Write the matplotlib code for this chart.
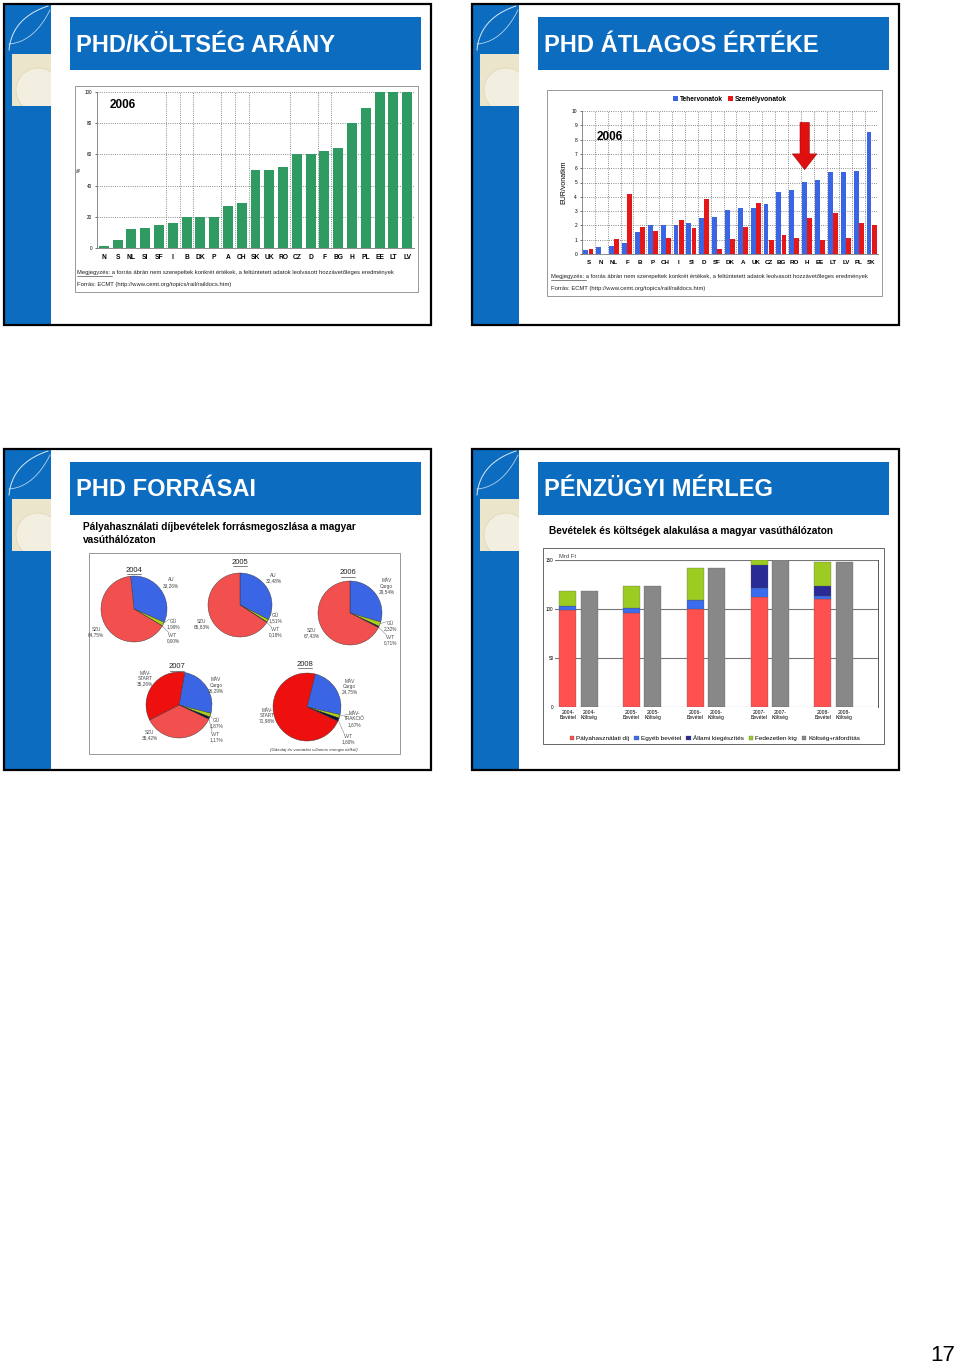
import numpy as np
import matplotlib.pyplot as plt
from matplotlib.patches import Rectangle, Circle, Polygon

plt.rcParams['font.family'] = ['Liberation Sans', 'DejaVu Sans']

# ------------------------------------------------------------
# data
# ------------------------------------------------------------

# slide 1: PHD / cost ratio, 2006 (%)
ratio_countries = ["N", "S", "NL", "SI", "SF", "I", "B", "DK", "P", "A", "CH", "SK",
                   "UK", "RO", "CZ", "D", "F", "BG", "H", "PL", "EE", "LT", "LV"]
ratio_values = [1, 5, 12, 13, 15, 16, 20, 20, 20, 27, 29, 50,
                50, 52, 60, 60, 62, 64, 80, 90, 100, 100, 100]

# slide 2: average charge, 2006 (EUR/vonatkm)
charge_countries = ["S", "N", "NL", "F", "B", "P", "CH", "I", "SI", "D", "SF", "DK",
                    "A", "UK", "CZ", "BG", "RO", "H", "EE", "LT", "LV", "PL", "SK"]
freight = [0.25, 0.5, 0.55, 0.75, 1.55, 2.0, 2.0, 2.0, 2.2, 2.5, 2.6, 3.1,
           3.2, 3.25, 3.5, 4.35, 4.5, 5.05, 5.2, 5.7, 5.7, 5.8, 8.5]
passenger = [0.35, 0.0, 1.05, 4.2, 1.9, 1.6, 1.15, 2.35, 1.8, 3.85, 0.35, 1.05,
             1.9, 3.6, 0.95, 1.35, 1.15, 2.55, 0.95, 2.85, 1.15, 2.15, 2.0]

# slide 3: sources of track access charges
pie_years = ["2004", "2005", "2006", "2007", "2008"]
pie_labels = [
    ["AU", "GÜ", "VVT", "SZU"],
    ["AU", "GÜ", "VVT", "SZU"],
    ["MÁV\nCargo", "GÜ", "VVT", "SZU"],
    ["MÁV\nCargo", "GÜ", "VVT", "SZU", "MÁV-\nSTART"],
    ["MÁV\nCargo", "MÁV-\nTRAKCIÓ", "VVT", "MÁV-\nSTART"],
]
pie_values = [
    [33.26, 1.99, 0.00, 64.75],
    [32.48, 1.51, 0.18, 65.83],
    [29.54, 2.32, 0.71, 67.43],
    [26.29, 1.87, 1.17, 35.42, 35.26],
    [24.75, 1.67, 1.60, 71.98],
]

# slide 4: revenue and cost (Mrd Ft)
balance_years = ["2004", "2005", "2006", "2007", "2008"]
phd_income = [98.6, 95.6, 100.0, 112.6, 110.0]
other_income = [4.8, 5.4, 9.0, 8.4, 3.6]
state_support = [0.0, 0.0, 0.0, 23.6, 9.4]
uncovered = [15.0, 22.5, 33.0, 5.4, 25.0]
total_cost = [118.4, 123.5, 142.0, 150.0, 148.0]
balance_series = ["Pályahasználati díj", "Egyéb bevétel", "Állami kiegészítés",
                  "Fedezetlen ktg", "Költség+ráfordítás"]

# ------------------------------------------------------------
# page
# ------------------------------------------------------------
W, H = 960, 1365
fig = plt.figure(figsize=(9.6, 13.65), dpi=100)
bg = fig.add_axes([0, 0, 1, 1])
bg.set_xlim(0, W)
bg.set_ylim(H, 0)
bg.axis('off')

BLUE = '#0b6cc0'


def px_axes(x0, y0, x1, y1):
    return fig.add_axes([x0 / W, 1 - y1 / H, (x1 - x0) / W, (y1 - y0) / H])


def bezier(p0, p1, p2):
    t = np.linspace(0, 1, 40)[:, None]
    p0, p1, p2 = map(np.array, (p0, p1, p2))
    return (1 - t)**2 * p0 + 2 * (1 - t) * t * p1 + t**2 * p2


def slide(x0, y0, title):
    bg.add_patch(Rectangle((x0, y0), 427, 321, fc='white', ec='none'))
    bg.add_patch(Rectangle((x0, y0), 47, 321, fc=BLUE, ec='none'))
    cream = Rectangle((x0 + 8, y0 + 50), 39, 52, fc='#ebe5cc', ec='none')
    bg.add_patch(cream)
    circ = Circle((x0 + 34, y0 + 86), 22, fc='#f3efe0', ec='#ddd5b8', lw=0.5)
    bg.add_patch(circ)
    circ.set_clip_path(cream)
    c = bezier((x0 + 44, y0 + 2), (x0 + 8, y0 + 14), (x0 + 5, y0 + 46))
    bg.plot(c[:, 0], c[:, 1], color='white', lw=0.7, alpha=0.85)
    c = bezier((x0 + 5, y0 + 40), (x0 + 30, y0 + 38), (x0 + 46, y0 + 6))
    bg.plot(c[:, 0], c[:, 1], color='white', lw=0.6, alpha=0.7)
    bg.add_patch(Rectangle((x0, y0), 427, 321, fc='none', ec='black', lw=1.6, zorder=5))
    bg.add_patch(Rectangle((x0 + 66, y0 + 13), 351, 53, fc=BLUE, ec='none'))
    bg.text(x0 + 72, y0 + 41, title, color='white', fontsize=17,
            fontweight='bold', va='center')


slide(4, 4, "PHD/KÖLTSÉG ARÁNY")
slide(472, 4, "PHD ÁTLAGOS ÉRTÉKE")
slide(4, 449, "PHD FORRÁSAI")
slide(472, 449, "PÉNZÜGYI MÉRLEG")

note = ("a forrás ábrán nem szerepeltek konkrét értékek, a feltüntetett adatok "
        "leolvasott hozzávetőleges eredmények")
source = "Forrás: ECMT (http://www.cemt.org/topics/rail/raildocs.htm)"


def footnote(x, y):
    bg.text(x, y, "Megjegyzés: " + note, fontsize=4.2, va='baseline', color='#222')
    bg.plot([x, x + 35], [y + 1.5, y + 1.5], color='#222', lw=0.4)
    bg.text(x, y + 12, source, fontsize=4.2, va='baseline', color='#222')


def style_small(ax):
    for s in ['top', 'right']:
        ax.spines[s].set_visible(False)
    for s in ['left', 'bottom']:
        ax.spines[s].set_color('#777')
        ax.spines[s].set_linewidth(0.6)


# ------------------------------------------------------------
# slide 1 chart
# ------------------------------------------------------------
bg.add_patch(Rectangle((75, 86), 343, 206, fc='white', ec='#888', lw=0.6))
ax1 = px_axes(97, 92, 414, 248)
x = np.arange(len(ratio_countries))
ax1.bar(x, ratio_values, width=0.72, color='#2f9a62', zorder=3)
ax1.set_xlim(-0.5, len(x) - 0.5)
ax1.set_ylim(0, 100)
ax1.set_yticks([0, 20, 40, 60, 80, 100])
ax1.set_yticklabels(['0', '20', '40', '60', '80', '100'], fontsize=3.3)
ax1.set_xticks(x)
ax1.set_xticklabels(ratio_countries, fontsize=4.8, fontweight='bold')
ax1.tick_params(axis='x', length=0, pad=4)
ax1.tick_params(axis='y', length=1.5, width=0.4, pad=2)
ax1.yaxis.grid(True, ls=':', color='#666', lw=0.6)
for i in [4, 5, 6, 8, 9, 10, 13, 15, 16]:
    ax1.axvline(i + 0.5, ls=':', color='#666', lw=0.6, zorder=1)
style_small(ax1)
ax1.set_ylabel('%', fontsize=3.5, labelpad=2)
ax1.text(0.04, 0.9, '2006', transform=ax1.transAxes, fontsize=8.5, fontweight='bold')
footnote(77, 274)

# ------------------------------------------------------------
# slide 2 chart
# ------------------------------------------------------------
bg.add_patch(Rectangle((547, 90), 335, 206, fc='white', ec='#888', lw=0.6))
ax2 = px_axes(582, 111, 878, 254)
x = np.arange(len(charge_countries))
b1 = ax2.bar(x - 0.2, freight, width=0.38, color='#3a66e4', zorder=3, label='Tehervonatok')
b2 = ax2.bar(x + 0.2, passenger, width=0.38, color='#e41818', zorder=3, label='Személyvonatok')
ax2.set_xlim(-0.5, len(x) - 0.5)
ax2.set_ylim(0, 10)
ax2.set_yticks(range(11))
ax2.set_yticklabels([str(v) for v in range(11)], fontsize=3.5)
ax2.set_xticks(x)
ax2.set_xticklabels(charge_countries, fontsize=4.5, fontweight='bold')
ax2.tick_params(axis='x', length=0, pad=4)
ax2.tick_params(axis='y', length=1.5, width=0.4, pad=2)
ax2.yaxis.grid(True, ls=':', color='#666', lw=0.6)
for i in x[:-1]:
    ax2.axvline(i + 0.5, ls=':', color='#666', lw=0.6, zorder=1)
style_small(ax2)
ax2.set_ylabel('EUR/vonatkm', fontsize=5, labelpad=3)
ax2.text(0.05, 0.8, '2006', transform=ax2.transAxes, fontsize=8.5, fontweight='bold')
ax2.legend(handles=[b1, b2], loc='lower center', bbox_to_anchor=(0.5, 1.04), ncol=2,
           frameon=False, handlelength=0.7, handleheight=0.7,
           handletextpad=0.3, columnspacing=0.8, borderaxespad=0,
           prop={'weight': 'bold', 'size': 4.8})
# red arrow above Hungary
hi = charge_countries.index('H') - 0.2
tip = freight[charge_countries.index('H')] + 0.85
top = tip + 3.3
ax2.add_patch(Polygon([[hi - 0.36, top], [hi + 0.36, top],
                       [hi + 0.36, tip + 1.1], [hi + 0.95, tip + 1.1],
                       [hi, tip], [hi - 0.95, tip + 1.1],
                       [hi - 0.36, tip + 1.1]],
                      closed=True, fc='#e01010', ec='#a00000', lw=0.4, zorder=6))
footnote(551, 278)

# ------------------------------------------------------------
# slide 3 pies
# ------------------------------------------------------------
bg.text(83, 533.5, "Pályahasználati díjbevételek forrásmegoszlása a magyar\nvasúthálózaton",
        fontsize=7.3, fontweight='bold', va='center', linespacing=1.35)
bg.add_patch(Rectangle((89, 553), 311, 201, fc='white', ec='#888', lw=0.6))

pie_colors = {'AU': '#3a66e6', 'MÁV\nCargo': '#3a66e6', 'GÜ': '#a8d01c',
              'MÁV-\nTRAKCIÓ': '#a8d01c', 'VVT': '#101030', 'SZU': '#f24f4f',
              'MÁV-\nSTART': '#ee0f0f'}
pie_centers = [(134, 609), (240, 605), (350, 613), (179, 705), (307, 707)]
pie_radius = [33, 32, 32, 33, 34]
pie_start = [96, 90, 90, 80, 76]
pie_title_pos = [(134, 570), (240, 562), (348, 573), (177, 667), (305, 664)]
pie_label_pos = [
    [(1.12, 0.8), (1.2, -0.45), (1.18, -0.87), (-1.15, -0.7)],
    [(1.05, 0.84), (1.1, -0.42), (1.1, -0.84), (-1.2, -0.6)],
    [(1.15, 0.84), (1.26, -0.42), (1.26, -0.84), (-1.2, -0.63)],
    [(1.12, 0.6), (1.12, -0.55), (1.12, -0.97), (-0.88, -0.9), (-1.03, 0.8)],
    [(1.25, 0.6), (1.4, -0.35), (1.22, -0.95), (-1.17, -0.25)],
]
for k, year in enumerate(pie_years):
    cx, cy = pie_centers[k]
    r = pie_radius[k]
    ax = px_axes(cx - r, cy - r, cx + r, cy + r)
    cols = [pie_colors[l] for l in pie_labels[k]]
    wedges, _ = ax.pie(pie_values[k], colors=cols, startangle=pie_start[k],
                       counterclock=False,
                       wedgeprops={'edgecolor': '#333', 'linewidth': 0.3})
    ax.set_xlim(-1, 1)
    ax.set_ylim(-1, 1)
    ax.set_aspect('equal')
    ax.axis('off')
    for w, lab, val, (lx, ly) in zip(wedges, pie_labels[k], pie_values[k], pie_label_pos[k]):
        txt = "%s\n%s%%" % (lab, ("%.2f" % val).replace('.', ','))
        ax.text(lx, ly, txt, fontsize=3.4, color='#444', ha='center', va='center',
                clip_on=False, linespacing=1.1)
        if val < 3:
            a = np.deg2rad((w.theta1 + w.theta2) / 2)
            ax.plot([0.98 * np.cos(a), lx - 0.12], [0.98 * np.sin(a), ly + 0.15],
                    color='#666', lw=0.3, clip_on=False)
    tx, ty = pie_title_pos[k]
    bg.text(tx, ty, year, fontsize=5.5, ha='center', va='center', color='#222')
    bg.plot([tx - 7, tx + 7], [ty + 4, ty + 4], color='#222', lw=0.4)
bg.text(314, 750, "(Gázolaj és vontatási villamos energia nélkül)", fontsize=3.2,
        style='italic', ha='center', va='center', color='#333')

# ------------------------------------------------------------
# slide 4 stacked bars
# ------------------------------------------------------------
bg.text(549, 531, "Bevételek és költségek alakulása a magyar vasúthálózaton",
        fontsize=7.3, fontweight='bold', va='center')
bg.add_patch(Rectangle((543, 548), 341, 196, fc='white', ec='#666', lw=0.7))
ax4 = px_axes(555, 560, 878, 707)
g = np.arange(len(balance_years)) * 3
bev_colors = ['#ff5050', '#3a6cf0', '#2b2b96', '#9ccc22']
bottom = np.zeros(len(g))
handles = []
for vals, col, name in zip([phd_income, other_income, state_support, uncovered],
                           bev_colors, balance_series[:4]):
    h = ax4.bar(g, vals, bottom=bottom, width=0.8, color=col, edgecolor='#555',
                linewidth=0.2, label=name, zorder=3)
    handles.append(h)
    bottom += np.array(vals)
h = ax4.bar(g + 1, total_cost, width=0.8, color='#888888', edgecolor='#555',
            linewidth=0.2, label=balance_series[4], zorder=3)
handles.append(h)
ax4.set_xlim(-0.6, 14.6)
ax4.set_ylim(0, 150)
ax4.set_yticks([0, 50, 100, 150])
ax4.set_yticklabels(['0', '50', '100', '150'], fontsize=3.3)
ax4.yaxis.grid(True, color='#777', lw=0.8)
ax4.set_axisbelow(True)
ticks = np.concatenate([g, g + 1])
labels = [y + "-\nBevétel" for y in balance_years] + [y + "-\nKöltség" for y in balance_years]
ax4.set_xticks(ticks)
ax4.set_xticklabels(labels, fontsize=3.6, linespacing=1.1)
ax4.tick_params(axis='x', length=0, pad=2)
ax4.tick_params(axis='y', length=0, pad=1)
for s in ['top', 'left', 'bottom']:
    ax4.spines[s].set_visible(False)
ax4.spines['right'].set_color('#555')
ax4.spines['right'].set_linewidth(0.7)
bg.text(559, 556, "Mrd Ft", fontsize=4.2, va='center', color='#444')
ax4.legend(handles=handles, loc='center', bbox_to_anchor=(715 / W, 1 - 738 / H),
           bbox_transform=fig.transFigure, ncol=5, frameon=False, fontsize=4.6,
           handlelength=0.7, handleheight=0.7, handletextpad=0.3, columnspacing=0.8)

# page number
bg.text(943, 1361, "17", fontsize=16, ha='center', va='baseline')

fig.savefig("out.png", dpi=100)
